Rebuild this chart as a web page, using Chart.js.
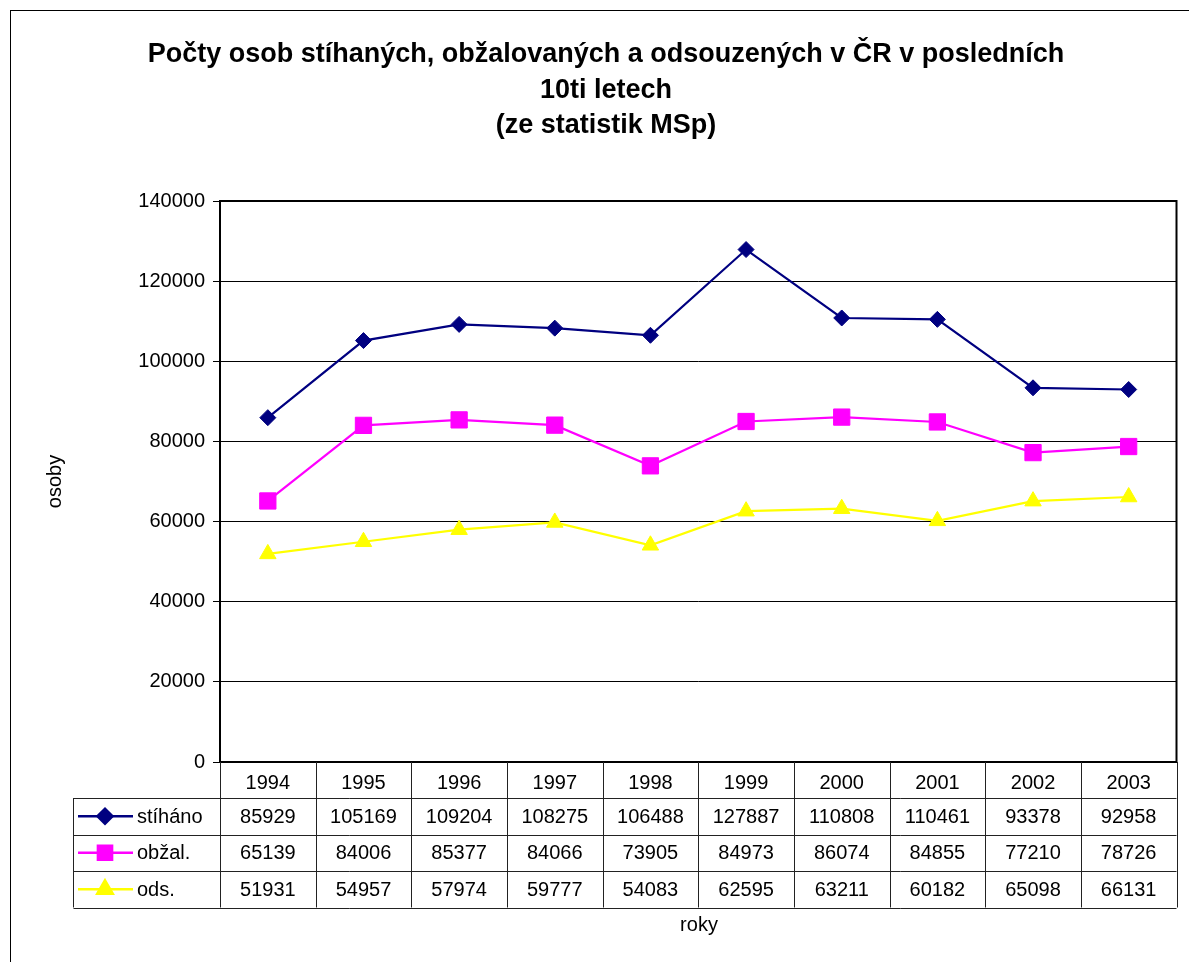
<!DOCTYPE html>
<html>
<head>
<meta charset="utf-8">
<title>Počty osob stíhaných, obžalovaných a odsouzených</title>
<script src="https://cdn.jsdelivr.net/npm/chart.js@4/dist/chart.umd.min.js"></script>
<style>
  html, body { margin: 0; padding: 0; background: #fff; }
  #wrap { width: 1189px; height: 962px; }
</style>
</head>
<body>
<div id="wrap"><canvas id="chart" width="1189" height="962"></canvas></div>
<script>
const years = ["1994", "1995", "1996", "1997", "1998", "1999", "2000", "2001", "2002", "2003"];
const stihano = [85929, 105169, 109204, 108275, 106488, 127887, 110808, 110461, 93378, 92958];
const obzal = [65139, 84006, 85377, 84066, 73905, 84973, 86074, 84855, 77210, 78726];
const ods = [51931, 54957, 57974, 59777, 54083, 62595, 63211, 60182, 65098, 66131];

const seriesNames = ["stíháno", "obžal.", "ods."];
const titleLines = [
  "Počty osob stíhaných, obžalovaných a odsouzených v ČR v posledních",
  "10ti letech",
  "(ze statistik MSp)",
];
const yTitle = "osoby";
const xTitle = "roky";
const yMin = 0;
const yMax = 140000;
const yStep = 20000;

const FONT = "'Liberation Sans', Arial, sans-serif";

// title, axis titles, frame and the data table under the plot
const tablePlugin = {
  id: "tablePlugin",
  afterDraw(chart) {
    const ctx = chart.ctx;
    const area = chart.chartArea;
    const x = chart.scales.x;
    const colW = x.getPixelForValue(1) - x.getPixelForValue(0);
    const rowH = 36.5;
    const tableLeft = 73.5;
    const headTop = area.bottom;
    const bodyTop = headTop + 36;

    ctx.save();

    // outer frame
    ctx.strokeStyle = "#000";
    ctx.lineWidth = 1;
    ctx.strokeRect(10.5, 10.5, 1400, 1400);

    // title
    ctx.fillStyle = "#000";
    ctx.textAlign = "center";
    ctx.textBaseline = "alphabetic";
    ctx.font = "bold 27px " + FONT;
    titleLines.forEach((line, i) => {
      ctx.fillText(line, 606, 62 + i * 35.5);
    });

    // plot frame
    ctx.lineWidth = 2;
    ctx.strokeRect(area.left, area.top, area.right - area.left, area.bottom - area.top);

    // table grid
    ctx.lineWidth = 1;
    ctx.strokeStyle = "#222";
    ctx.beginPath();
    for (let i = 0; i <= years.length; i++) {
      const px = Math.round(x.getPixelForValue(i) - colW / 2) + 0.5;
      ctx.moveTo(px, headTop);
      ctx.lineTo(px, bodyTop + rowH * 3);
    }
    ctx.moveTo(tableLeft, bodyTop);
    ctx.lineTo(tableLeft, bodyTop + rowH * 3);
    for (let r = 0; r <= 3; r++) {
      const py = Math.round(bodyTop + r * rowH) + 0.5;
      ctx.moveTo(tableLeft, py);
      ctx.lineTo(area.right, py);
    }
    ctx.stroke();

    // table rows
    ctx.font = "20px " + FONT;
    ctx.textBaseline = "middle";
    chart.data.datasets.forEach((ds, r) => {
      const cy = bodyTop + rowH * r + rowH / 2 + 1;
      ctx.fillStyle = "#000";
      ctx.textAlign = "center";
      ds.data.forEach((v, i) => {
        ctx.fillText(String(v), x.getPixelForValue(i), cy);
      });

      // legend key
      ctx.strokeStyle = ds.borderColor;
      ctx.lineWidth = 2.5;
      ctx.beginPath();
      ctx.moveTo(78, cy - 1);
      ctx.lineTo(133, cy - 1);
      ctx.stroke();
      ctx.fillStyle = ds.borderColor;
      Chart.helpers.drawPoint(ctx, {
        pointStyle: ds.pointStyle,
        radius: ds.legendRadius,
        rotation: 0,
        borderWidth: 1,
      }, 105, cy - 1);

      ctx.fillStyle = "#000";
      ctx.textAlign = "left";
      ctx.fillText(ds.label, 137, cy);
    });

    // axis titles
    ctx.font = "20px " + FONT;
    ctx.textAlign = "center";
    ctx.fillText(xTitle, 699, 925);
    ctx.translate(55, (area.top + area.bottom) / 2);
    ctx.rotate(-Math.PI / 2);
    ctx.fillText(yTitle, 0, 0);

    ctx.restore();
  },
};

document.addEventListener("DOMContentLoaded", function () {
  const ctx = document.getElementById("chart");

  new Chart(ctx, {
    type: "line",
    data: {
      labels: years,
      datasets: [
        {
          label: seriesNames[0],
          data: stihano,
          borderColor: "#000080",
          backgroundColor: "#000080",
          pointStyle: "rectRot",
          pointRadius: 8,
          legendRadius: 7.5,
        },
        {
          label: seriesNames[1],
          data: obzal,
          borderColor: "#FF00FF",
          backgroundColor: "#FF00FF",
          pointStyle: "rect",
          pointRadius: 11.5,
          legendRadius: 10,
        },
        {
          label: seriesNames[2],
          data: ods,
          borderColor: "#FFFF00",
          backgroundColor: "#FFFF00",
          pointStyle: "triangle",
          pointRadius: 9.5,
          legendRadius: 9,
        },
      ],
    },
    options: {
      responsive: false,
      animation: false,
      devicePixelRatio: 1,
      elements: {
        line: { borderWidth: 2.2, tension: 0 },
        point: { borderWidth: 1 },
      },
      layout: {
        padding: { top: 201, right: 10, bottom: 0, left: 0 },
      },
      scales: {
        x: {
          offset: true,
          afterFit(scale) {
            scale.height = 200;
          },
          grid: { display: false, drawTicks: false },
          border: { color: "#000", width: 2 },
          ticks: {
            color: "#000",
            padding: 9,
            font: { family: FONT, size: 20 },
            maxRotation: 0,
          },
        },
        y: {
          min: yMin,
          max: yMax,
          afterFit(scale) {
            scale.width = 220;
          },
          grid: { color: "#000", lineWidth: 1, tickLength: 7 },
          border: { color: "#000", width: 2 },
          ticks: {
            stepSize: yStep,
            color: "#000",
            padding: 8,
            font: { family: FONT, size: 20 },
            callback: (v) => String(v),
          },
        },
      },
      plugins: {
        legend: { display: false },
        title: { display: false },
        tooltip: { enabled: false },
      },
    },
    plugins: [tablePlugin],
  });
});
</script>
</body>
</html>
